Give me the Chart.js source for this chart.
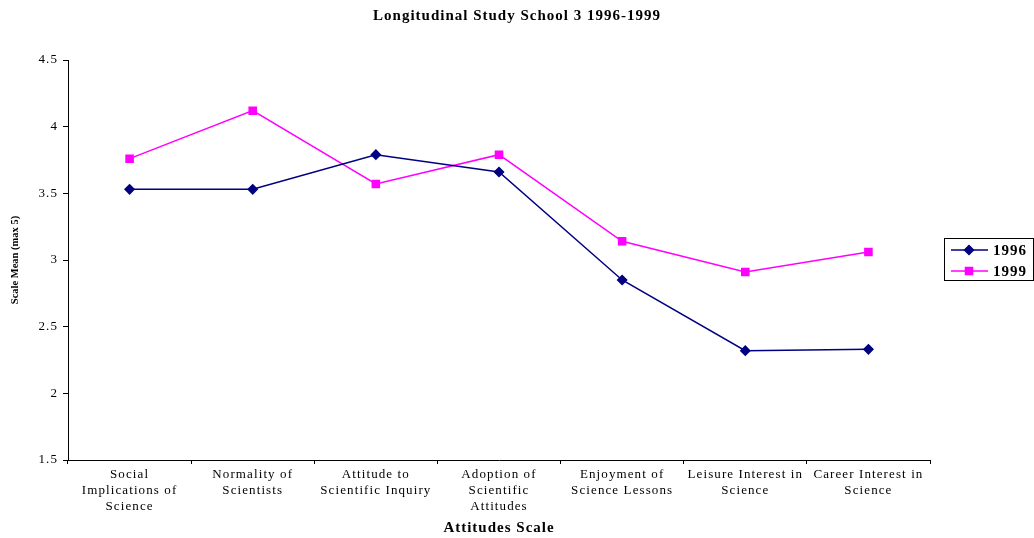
<!doctype html>
<html>
<head>
<meta charset="utf-8"/>
<title>Longitudinal Study School 3 1996-1999</title>
<script src="https://cdn.jsdelivr.net/npm/chart.js@4"></script>
<style>
  html, body { margin: 0; padding: 0; background: #fff; }
  canvas { display: block; }
</style>
</head>
<body>
<canvas id="chart" width="1034" height="538"></canvas>
<script>
// values
const categories = [
  ['Social', 'Implications of', 'Science'],
  ['Normality of', 'Scientists'],
  ['Attitude to', 'Scientific Inquiry'],
  ['Adoption of', 'Scientific', 'Attitudes'],
  ['Enjoyment of', 'Science Lessons'],
  ['Leisure Interest in', 'Science'],
  ['Career Interest in', 'Science'],
];
const seriesNames = ['1996', '1999'];
const scores1996 = [3.53, 3.53, 3.79, 3.66, 2.85, 2.32, 2.33];
const scores1999 = [3.76, 4.12, 3.57, 3.79, 3.14, 2.91, 3.06];
const yMin = 1.5, yMax = 4.5, yStep = 0.5;

const SERIF = '"Liberation Serif", "DejaVu Serif", serif';

// the old spreadsheet export has loose, spaced-out lettering; canvas letterSpacing
// fakes that. wrap the scale draw calls once so only their text gets it.
function spaced(fn, ctx, px) {
  return function () {
    ctx.save();
    ctx.letterSpacing = px;
    fn.apply(this, arguments);
    ctx.restore();
  };
}

/* title + boxed legend drawn by hand */
const decor = {
  id: 'decor',
  beforeDraw(chart) {
    const ctx = chart.ctx;
    Object.values(chart.scales).forEach((s) => {
      if (s._spaced) return;
      s.drawLabels = spaced(s.drawLabels, ctx, '1.1px');
      s.drawTitle = spaced(s.drawTitle, ctx, s.axis === 'x' ? '1px' : '0px');
      s._spaced = true;
    });
  },
  afterDraw(chart) {
    const ctx = chart.ctx;
    ctx.save();
    ctx.fillStyle = '#000';
    ctx.letterSpacing = '1px';
    ctx.font = 'bold 15px ' + SERIF;
    ctx.textAlign = 'center';
    ctx.textBaseline = 'middle';
    ctx.fillText('Longitudinal Study School 3 1996-1999', 517, 16);

    // legend box
    ctx.strokeStyle = '#000';
    ctx.lineWidth = 1;
    ctx.strokeRect(944.5, 238.5, 89, 42);
    ctx.font = 'bold 15px ' + SERIF;
    ctx.textAlign = 'left';
    chart.data.datasets.forEach((ds, i) => {
      const y = 250 + i * 21;
      ctx.strokeStyle = ds.borderColor;
      ctx.lineWidth = ds.borderWidth;
      ctx.beginPath();
      ctx.moveTo(951, y);
      ctx.lineTo(988, y);
      ctx.stroke();
      ctx.fillStyle = ds.pointBackgroundColor;
      ctx.strokeStyle = ds.pointBorderColor;
      Chart.helpers.drawPoint(ctx, { pointStyle: ds.pointStyle, radius: ds.pointRadius, borderWidth: 1 }, 969, y);
      ctx.fillStyle = '#000';
      ctx.fillText(ds.label, 993, y + 1);
    });
    ctx.restore();
  },
};

new Chart(document.getElementById('chart'), {
  type: 'line',
  data: {
    labels: categories,
    datasets: [
      {
        label: seriesNames[0],
        data: scores1996,
        borderColor: '#000080',
        backgroundColor: '#000080',
        pointBackgroundColor: '#000080',
        pointBorderColor: '#000080',
        pointStyle: 'rectRot',
        pointRadius: 4.5,
        borderWidth: 1.5,
        tension: 0,
      },
      {
        label: seriesNames[1],
        data: scores1999,
        borderColor: '#ff00ff',
        backgroundColor: '#ff00ff',
        pointBackgroundColor: '#ff00ff',
        pointBorderColor: '#ff00ff',
        pointStyle: 'rect',
        pointRadius: 5,
        borderWidth: 1.5,
        tension: 0,
      },
    ],
  },
  options: {
    responsive: false,
    animation: false,
    layout: { padding: { left: 0, right: 104, top: 60, bottom: 0 } },
    plugins: {
      legend: { display: false },
      title: { display: false },
      tooltip: { enabled: false },
    },
    scales: {
      x: {
        offset: true,
        afterFit: (s) => { s.height = 78; },
        grid: { offset: true, drawOnChartArea: false, color: '#000', tickLength: 4, tickWidth: 1 },
        border: { display: true, color: '#000', width: 1 },
        ticks: {
          color: '#000', padding: 2.5, maxRotation: 0, autoSkip: false,
          font: { family: SERIF, size: 13, lineHeight: 1.22 },
        },
        title: {
          display: true, text: 'Attitudes Scale', color: '#000',
          font: { family: SERIF, size: 15, weight: 'bold', lineHeight: 1.2 },
          padding: { top: 0, bottom: 1 },
        },
      },
      y: {
        min: yMin, max: yMax,
        afterFit: (s) => { s.width = 68; },
        grid: { drawOnChartArea: false, color: '#000', tickLength: 5, tickWidth: 1 },
        border: { display: true, color: '#000', width: 1 },
        ticks: {
          stepSize: yStep, color: '#000', padding: 5,
          font: { family: SERIF, size: 13 },
          callback: (v) => String(v),
        },
        title: {
          display: true, text: 'Scale Mean (max 5)', color: '#000',
          font: { family: SERIF, size: 10.5, weight: 'bold', lineHeight: 1.2 },
          padding: { top: 9, bottom: 0 },
        },
      },
    },
  },
  plugins: [decor],
});
</script>
</body>
</html>
